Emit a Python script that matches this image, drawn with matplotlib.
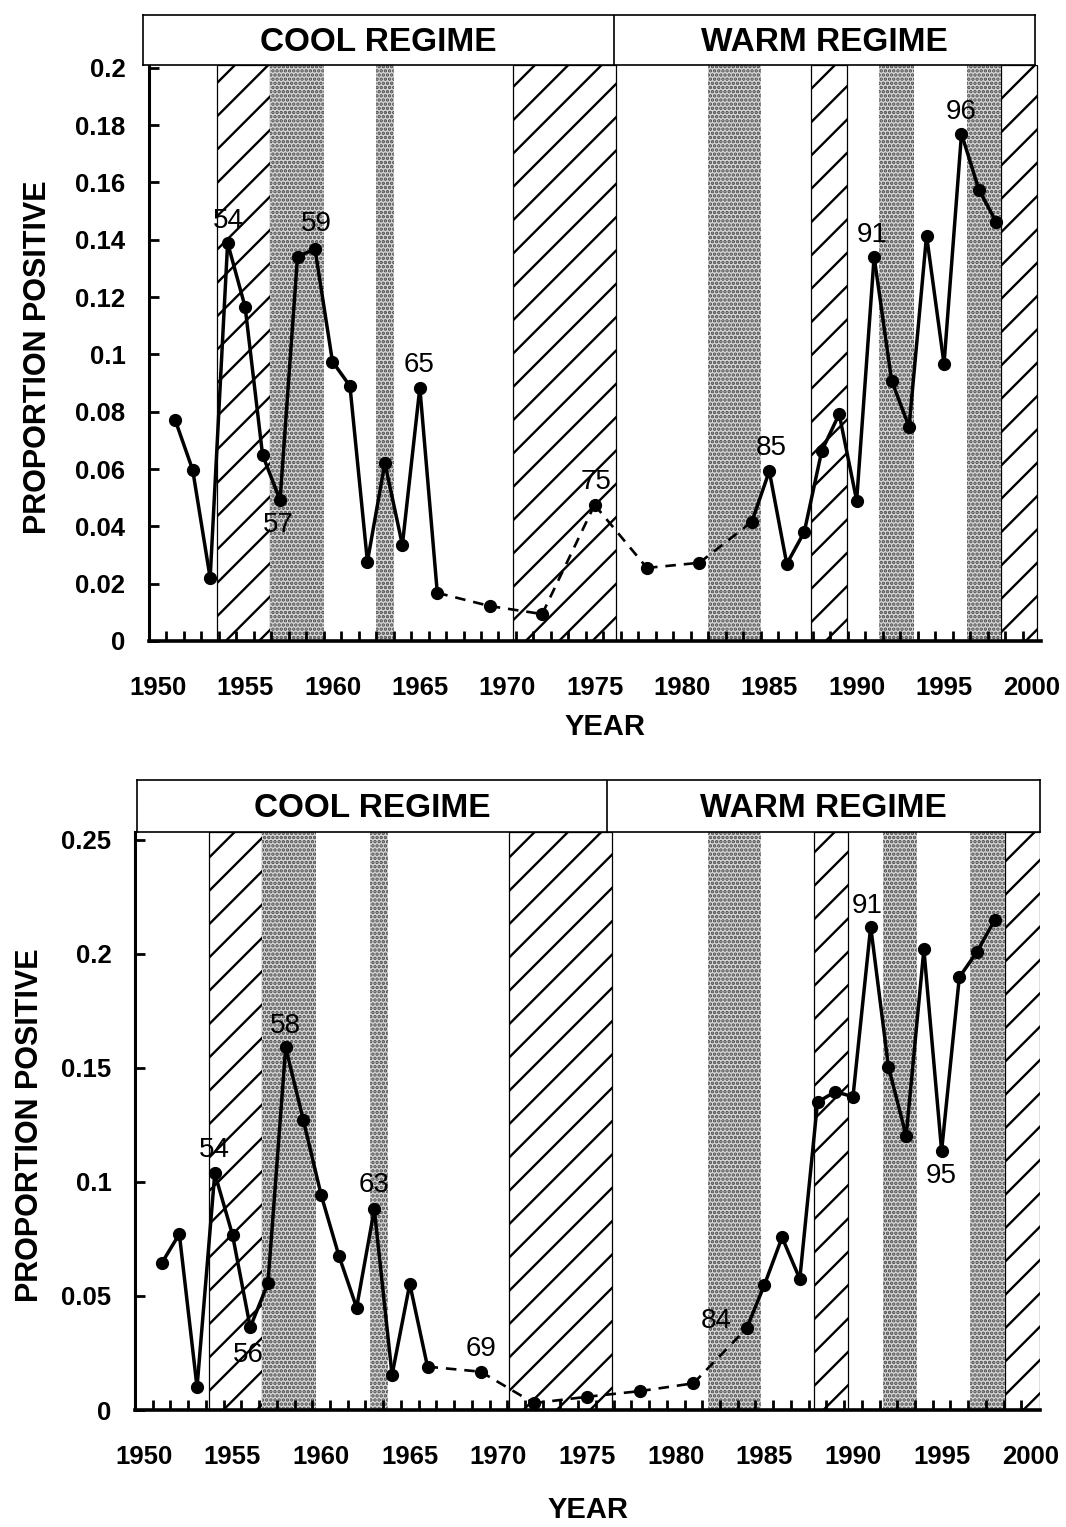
import numpy as np
import matplotlib
matplotlib.use("Agg")
import matplotlib.pyplot as plt
from matplotlib.ticker import FuncFormatter, MultipleLocator

plt.rcParams['font.family'] = ['Liberation Sans', 'DejaVu Sans']
plt.rcParams['font.weight'] = 'bold'
plt.rcParams['hatch.linewidth'] = 1.7

# ---- data ----
top_years = [1951, 1952, 1953, 1954, 1955, 1956, 1957, 1958, 1959, 1960, 1961, 1962,
             1963, 1964, 1965, 1966, 1969, 1972, 1975, 1978, 1981, 1984, 1985, 1986,
             1987, 1988, 1989, 1990, 1991, 1992, 1993, 1994, 1995, 1996, 1997, 1998]
top_vals = [0.0771, 0.0597, 0.0220, 0.1389, 0.1166, 0.0649, 0.0492, 0.1341, 0.1368,
            0.0975, 0.0890, 0.0277, 0.0621, 0.0335, 0.0884, 0.0168, 0.0122, 0.0094,
            0.0475, 0.0255, 0.0273, 0.0416, 0.0593, 0.0269, 0.0380, 0.0663, 0.0792,
            0.0490, 0.1341, 0.0909, 0.0747, 0.1415, 0.0967, 0.1770, 0.1574, 0.1461]
top_labels = [1954, 1957, 1959, 1965, 1975, 1985, 1991, 1996]
top_hatch = [(1953.4, 1956.45), (1970.35, 1976.2), (1987.4, 1989.45), (1998.25, 2000.3)]
top_stipple = [(1956.45, 1959.5), (1962.5, 1963.5), (1981.5, 1984.5),
               (1991.3, 1993.3), (1996.3, 1998.25)]

bot_years = top_years
bot_vals = [0.0643, 0.0772, 0.0100, 0.1038, 0.0768, 0.0363, 0.0556, 0.1590, 0.1270,
            0.0943, 0.0677, 0.0449, 0.0880, 0.0154, 0.0553, 0.0190, 0.0168, 0.0030,
            0.0058, 0.0083, 0.0117, 0.0358, 0.0548, 0.0757, 0.0575, 0.1350, 0.1396,
            0.1374, 0.2120, 0.1506, 0.1202, 0.2020, 0.1137, 0.1898, 0.2010, 0.2150]
bot_labels = [1954, 1956, 1958, 1963, 1969, 1984, 1991, 1995]
bot_hatch = [(1953.7, 1956.65), (1970.6, 1976.4), (1987.8, 1989.7), (1998.6, 2000.55)]
bot_stipple = [(1956.65, 1959.7), (1962.75, 1963.75), (1981.8, 1984.8),
               (1991.7, 1993.6), (1996.6, 1998.6)]

regime_shift = 1976.1
regime_names = ['COOL REGIME', 'WARM REGIME']

# label offsets in pixels (dx, dy)
top_offsets = {1954: (1, 22), 1957: (-2, -25), 1959: (1, 25), 1965: (-1, 23),
               1975: (1, 23), 1985: (2, 23), 1991: (-2, 22), 1996: (0, 22)}
bot_offsets = {1954: (0, 23), 1956: (-2, -28), 1958: (0, 21), 1963: (0, 24),
               1969: (0, 23), 1984: (-30, 7), 1991: (-3, 21), 1995: (0, -25)}

W, H = 1066, 1527
fig = plt.figure(figsize=(W / 100, H / 100), dpi=100)


def box(x0, x1, ytop, ybot):
    # pixel box -> figure fraction rect
    return [x0 / W, 1 - ybot / H, (x1 - x0) / W, (ybot - ytop) / H]


def draw_panel(ax, hdr, years, vals, hatch, stipple, labels, offsets, ytop, ystep):
    ax.set_xlim(1949.5, 2000.55)
    ax.set_ylim(0, ytop)
    for a, b in hatch:
        ax.axvspan(a, b, facecolor='white', edgecolor='black', hatch='/', linewidth=0.9, zorder=1)
    for a, b in stipple:
        ax.axvspan(a, b, facecolor='#d6d6d6', edgecolor='#4a4a4a', hatch='....', linewidth=0, zorder=1)

    # solid between consecutive years, dashed across the gaps
    for i in range(len(years) - 1):
        if years[i + 1] - years[i] == 1:
            ax.plot(years[i:i + 2], vals[i:i + 2], color='black', lw=2.5, zorder=3,
                    solid_capstyle='round')
        else:
            ax.plot(years[i:i + 2], vals[i:i + 2], color='black', lw=1.9, zorder=3,
                    linestyle=(0, (4, 3)))
    ax.plot(years, vals, 'o', color='black', ms=8.5, zorder=4)

    for yr in labels:
        v = vals[years.index(yr)]
        dx, dy = offsets[yr]
        ax.annotate(str(yr)[2:], (yr, v), xytext=(dx, dy), textcoords='offset pixels',
                    ha='center', va='center', fontsize=20, fontweight='normal', zorder=5)

    for s in ['top', 'right']:
        ax.spines[s].set_visible(False)
    ax.spines['left'].set_linewidth(2.2)
    ax.spines['bottom'].set_linewidth(2.6)

    ax.set_xticks(np.arange(1950, 2001, 5))
    ax.set_xticks(np.arange(1950.5, 2000, 1), minor=True)
    ax.tick_params(axis='x', which='major', length=0, pad=25, labelsize=18.5)
    ax.tick_params(axis='x', which='minor', direction='in', length=7, width=2)
    ax.yaxis.set_major_locator(MultipleLocator(ystep))
    ax.yaxis.set_major_formatter(FuncFormatter(lambda v, p: '%g' % round(v, 4)))
    ax.tick_params(axis='y', direction='in', length=7, width=2, pad=17, labelsize=18.5)
    ax.set_ylim(0, ytop)

    # regime header
    hdr.set_xlim(0, 1)
    hdr.set_ylim(0, 1)
    hdr.set_xticks([])
    hdr.set_yticks([])
    for s in hdr.spines.values():
        s.set_linewidth(1.2)
    xd = ax.transData.transform((regime_shift, 0))[0]
    frac = hdr.transAxes.inverted().transform((xd, 0))[0]
    hdr.axvline(frac, color='black', lw=1.2)
    hdr.text(frac / 2, 0.45, regime_names[0], ha='center', va='center', fontsize=24)
    hdr.text((1 + frac) / 2, 0.45, regime_names[1], ha='center', va='center', fontsize=24)


ax1 = fig.add_axes(box(149, 1041, 65, 641))
hd1 = fig.add_axes(box(143, 1035, 15, 65))
ax2 = fig.add_axes(box(135, 1040, 832, 1410))
hd2 = fig.add_axes(box(137, 1040, 780, 832))

draw_panel(ax1, hd1, top_years, top_vals, top_hatch, top_stipple, top_labels, top_offsets,
           0.201, 0.02)
draw_panel(ax2, hd2, bot_years, bot_vals, bot_hatch, bot_stipple, bot_labels, bot_offsets,
           0.2535, 0.05)

fig.text(38 / W, 1 - 357 / H, 'PROPORTION POSITIVE', rotation=90, ha='center', va='center',
         fontsize=22)
fig.text(30 / W, 1 - 1125 / H, 'PROPORTION POSITIVE', rotation=90, ha='center', va='center',
         fontsize=22)
fig.text(605 / W, 1 - 727 / H, 'YEAR', ha='center', va='center', fontsize=21)
fig.text(588 / W, 1 - 1510 / H, 'YEAR', ha='center', va='center', fontsize=21)

plt.savefig('out.png', dpi=100)
